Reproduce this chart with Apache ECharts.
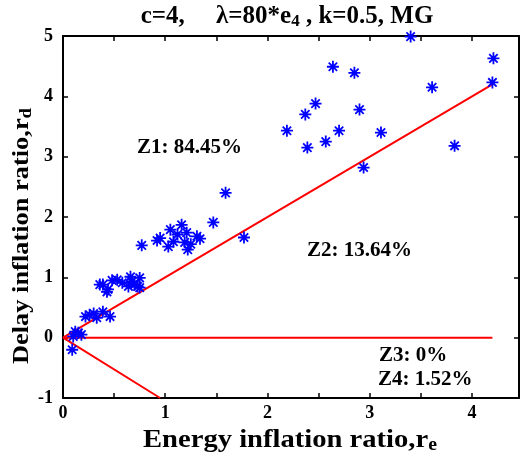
<!DOCTYPE html>
<html><head><meta charset="utf-8">
<script src="https://cdn.jsdelivr.net/npm/echarts@6/dist/echarts.min.js"></script>
<style>html,body{margin:0;padding:0;background:#fff}#c{width:521px;height:459px}</style>
</head><body><div id="c"></div>
<script>
var pointsX = [2.64,2.85,2.47,2.37,2.90,2.19,2.70,2.57,2.39,2.94,
  3.40,4.21,4.20,3.61,3.11,3.83,
  1.59,1.47,1.77,0.77,0.92,0.95,1.03,1.05,1.16,1.12,1.21,1.22,1.31,1.34,1.19,1.08,1.25,
  0.36,0.39,0.44,0.43,0.53,0.58,0.66,0.67,0.70,0.75,0.64,0.73,0.75,0.48,
  0.22,0.26,0.39,0.46,0.33,0.30,0.15,0.10,0.18,0.12,0.09];
var pointsY = [4.49,4.39,3.88,3.70,3.78,3.43,3.43,3.25,3.15,2.82,
  4.99,4.63,4.23,4.15,3.40,3.18,
  2.40,1.91,1.66,1.53,1.61,1.65,1.51,1.79,1.87,1.71,1.74,1.46,1.68,1.64,1.58,1.59,1.55,
  0.88,0.88,0.80,0.76,0.96,0.91,1.01,0.93,0.88,0.99,0.85,0.85,0.83,0.95,
  0.35,0.38,0.43,0.35,0.33,0.40,0.08,0.02,0.05,0.10,-0.20];
var lineDiagX = [0, 4.2], lineDiagY = [0, 4.2];
var lineZeroX = [0, 4.2], lineZeroY = [0, 0];
var lineNegX = [0, 0.95], lineNegY = [0, -1];
var xTickLabels = ['0', '1', '2', '3', '4'];
var zoneLabels = ['Z1: 84.45%', 'Z2: 13.64%', 'Z3: 0%', 'Z4: 1.52%'];
var titleMain = ['c=4,     λ=80*e', '4', ' , k=0.5, MG'];
var xName = ['Energy inflation ratio,r', 'e'];
var yName = ['Delay inflation ratio,r', 'd'];

function zip(a, b) { return a.map(function (v, i) { return [v, b[i]]; }); }

var serif = '"Liberation Serif","DejaVu Serif",serif';
var star = 'path://M0,-10L0,10M-10,0L10,0M-7,-7L7,7M-7,7L7,-7';
var chart = echarts.init(document.getElementById('c'));
var tickStyle = {show: true, inside: true, length: 5, lineStyle: {color: '#000', width: 1.5}};
var lineCommon = {show: true, onZero: false, lineStyle: {color: '#000', width: 2}};
function redLine(x, y) {
  return {type: 'line', data: zip(x, y), symbol: 'none', silent: true,
    lineStyle: {color: '#ff0000', width: 2}, z: 3};
}
function richPair(size, subSize, subPad) {
  return {
    a: {fontFamily: serif, fontWeight: 'bold', fontSize: size, color: '#000'},
    s: {fontFamily: serif, fontWeight: 'bold', fontSize: subSize, color: '#000', padding: [subPad, 0, 0, 0]}
  };
}
function zoneText(i, left, top) {
  return {type: 'text', left: left, top: top, z: 10,
    style: {text: zoneLabels[i], font: 'bold 21px ' + serif, fill: '#000'}};
}
chart.setOption({
  animation: false,
  grid: {left: 63, right: 2, top: 36, bottom: 61},
  xAxis: [{
    type: 'value', min: 0, max: 4.46, interval: 0.5,
    axisLine: lineCommon, axisTick: tickStyle, splitLine: {show: false},
    axisLabel: {color: '#000', fontFamily: serif, fontWeight: 'bold', fontSize: 18, margin: 6,
      showMaxLabel: false,
      formatter: function (v) {
        var r = Math.round(v);
        return Math.abs(v - r) < 1e-6 && xTickLabels[r] !== undefined ? xTickLabels[r] : '';
      }}
  }, {
    type: 'value', position: 'top', min: 0, max: 4.46, interval: 0.5,
    axisLine: lineCommon, axisTick: tickStyle, axisLabel: {show: false}, splitLine: {show: false}
  }],
  yAxis: [{
    type: 'value', min: -1, max: 5, interval: 1,
    axisLine: lineCommon, axisTick: tickStyle, splitLine: {show: false},
    axisLabel: {color: '#000', fontFamily: serif, fontWeight: 'bold', fontSize: 18, margin: 10}
  }, {
    type: 'value', position: 'right', min: -1, max: 5, interval: 1,
    axisLine: lineCommon, axisTick: tickStyle, axisLabel: {show: false}, splitLine: {show: false}
  }],
  graphic: [
    {type: 'text', x: 287, y: 17, z: 10,
      style: {text: '{a|' + titleMain[0] + '}{s|' + titleMain[1] + '}{a|' + titleMain[2] + '}',
        align: 'center', verticalAlign: 'middle', rich: richPair(25, 17, 10)}},
    {type: 'text', x: 290, y: 440, scaleX: 1.1, z: 10,
      style: {text: '{a|' + xName[0] + '}{s|' + xName[1] + '}',
        align: 'center', verticalAlign: 'middle', rich: richPair(26, 18, 10)}},
    {type: 'text', x: 22, y: 236, rotation: Math.PI / 2, scaleX: 1.1, z: 10,
      style: {text: '{a|' + yName[0] + '}{s|' + yName[1] + '}',
        align: 'center', verticalAlign: 'middle', rich: richPair(24, 17, 10)}},
    zoneText(0, 137, 137),
    zoneText(1, 307, 240),
    zoneText(2, 379, 345),
    zoneText(3, 378, 369)
  ],
  series: [
    redLine(lineDiagX, lineDiagY),
    redLine(lineZeroX, lineZeroY),
    redLine(lineNegX, lineNegY),
    {type: 'scatter', data: zip(pointsX, pointsY), symbol: star, symbolSize: 12, z: 4,
      itemStyle: {color: 'none', borderColor: '#0000ff', borderWidth: 1.8, opacity: 1}}
  ]
});
</script></body></html>
